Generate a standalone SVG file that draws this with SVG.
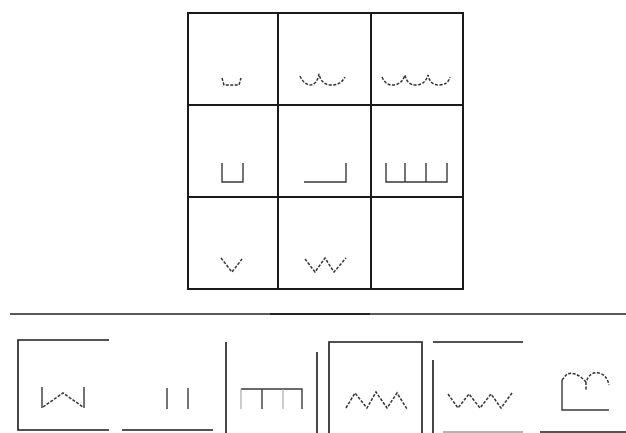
<svg xmlns="http://www.w3.org/2000/svg" width="626" height="433" viewBox="0 0 626 433">
<style>
.frame{fill:none;stroke:#1a1a1a;stroke-width:2;stroke-linecap:square}
.fr{fill:none;stroke:#1a1a1a;stroke-width:1.6}
.ic{fill:none;stroke:#3a3a3a;stroke-width:1.4;stroke-linejoin:miter}
.dot{fill:none;stroke:#333;stroke-width:1.5;stroke-dasharray:3,1.5}
.faint{fill:none;stroke:#aaa;stroke-width:1.2}
</style>
<rect width="626" height="433" fill="#fff"/>
<g id="grid">
<rect class="frame" x="188" y="13" width="275" height="276"/>
<line class="frame" x1="278" y1="13" x2="278" y2="289"/>
<line class="frame" x1="371" y1="13" x2="371" y2="289"/>
<line class="frame" x1="188" y1="105" x2="463" y2="105"/>
<line class="frame" x1="188" y1="197" x2="463" y2="197"/>
</g>
<g id="cell-1-1"><path class="dot" d="M222,78 L224,85 L239,85 L241,78"/></g>
<g id="cell-1-2"><path class="dot" d="M300,76 Q304,85 311,85 Q317,84 319,74 Q321,84 330,85 Q340,86 345,77"/></g>
<g id="cell-1-3"><path class="dot" d="M382,77 Q386,86 394,85 Q402,84 405,75 Q407,85 416,85 Q425,85 428,75 Q430,85 439,85 Q448,85 450,77"/></g>
<g id="cell-2-1"><path class="ic" d="M222,163 V182 H243 V163"/></g>
<g id="cell-2-2"><path class="ic" d="M304,182 H346 V163"/></g>
<g id="cell-2-3"><path class="ic" d="M386,163 V182 H447 V163 M405,163 V182 M426,163 V182"/></g>
<g id="cell-3-1"><path class="dot" d="M221,258 L232,272 L242,259"/></g>
<g id="cell-3-2"><path class="dot" d="M305,259 L315,272 L325,258 L334,272 L346,258"/></g>
<g id="cell-3-3"></g>
<g id="separator">
<line x1="10" y1="314" x2="626" y2="314" stroke="#222" stroke-width="1.5"/>
<line x1="270" y1="314" x2="370" y2="314" stroke="#222" stroke-width="2"/>
</g>
<g id="option-1">
<path class="fr" d="M109,340 H18 V430 H109"/>
<path class="ic" d="M42,387 V408 M84,387 V408"/>
<path class="dot" d="M43,407 L63,393 L83,407"/>
</g>
<g id="option-2">
<line class="fr" x1="122" y1="430" x2="213" y2="430"/>
<line class="fr" x1="226" y1="342" x2="226" y2="433"/>
<path class="ic" d="M167,388 V409 M188,388 V409"/>
</g>
<g id="option-3">
<line class="fr" x1="317" y1="352" x2="317" y2="433"/>
<path class="ic" d="M241,389 H302 V409 M262,389 V409"/>
<path class="faint" d="M241,389 V409 M283,389 V409"/>
</g>
<g id="option-4">
<path class="fr" d="M329,433 V342 H422 V433"/>
<path class="dot" d="M346,408 L355,393 L367,408 L376,392 L387,408 L397,393 L407,409"/>
</g>
<g id="option-5">
<line class="fr" x1="433" y1="342" x2="523" y2="342"/>
<line class="fr" x1="433" y1="360" x2="433" y2="433"/>
<line x1="443" y1="432" x2="523" y2="432" stroke="#999" stroke-width="1.5"/>
<path class="dot" d="M448,394 L458,408 L469,394 L480,408 L491,394 L501,408 L512,393"/>
</g>
<g id="option-6">
<line class="fr" x1="540" y1="432" x2="626" y2="432"/>
<path class="ic" d="M562,380 V410 H609" stroke-width="1.8"/>
<path class="dot" d="M562,380 L567,374 Q576,371 586,382 Q590,371 599,373 Q607,375 609,385 M586,382 V391"/>
</g>
</svg>
